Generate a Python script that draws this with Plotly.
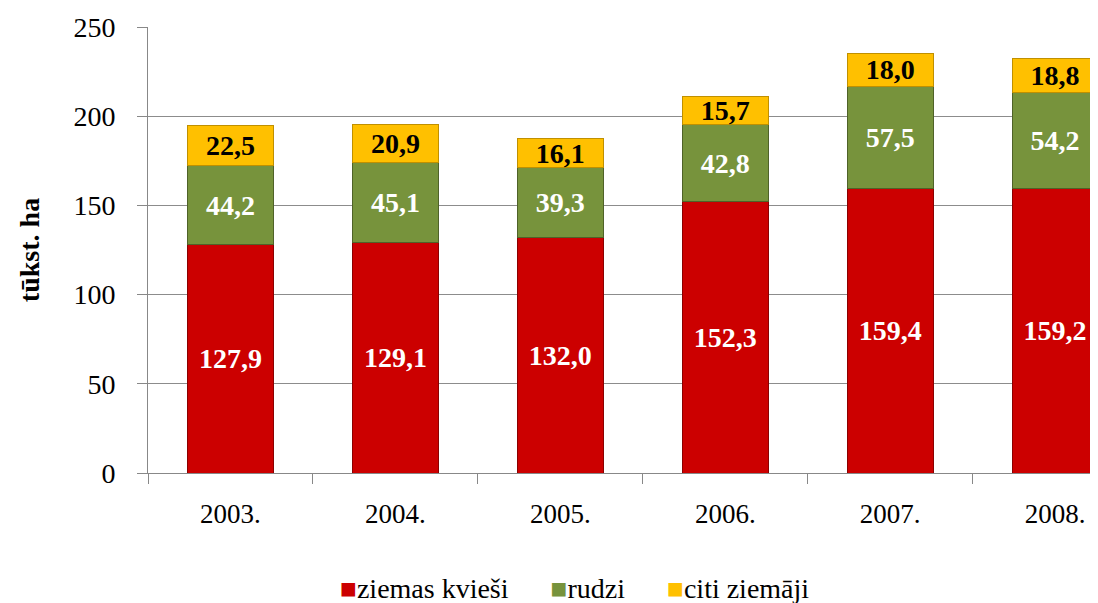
import plotly.graph_objects as go

years = ["2003.", "2004.", "2005.", "2006.", "2007.", "2008."]
ziemas_kviesi = [127.9, 129.1, 132.0, 152.3, 159.4, 159.2]
rudzi = [44.2, 45.1, 39.3, 42.8, 57.5, 54.2]
citi_ziemaji = [22.5, 20.9, 16.1, 15.7, 18.0, 18.8]
y_ticks = [0, 50, 100, 150, 200, 250]

def lab(vals):
    return [f"{v:.1f}".replace(".", ",") for v in vals]

serif = "Liberation Serif"
fig = go.Figure()
series = [
    ("ziemas kvieši", ziemas_kviesi, "#CC0000", "#8B0000", "white"),
    ("rudzi", rudzi, "#77933C", "#4F6228", "white"),
    ("citi ziemāji", citi_ziemaji, "#FFC000", "#C09000", "black"),
]
legend_parts = []
for name, vals, col, edge, tcol in series:
    fig.add_trace(go.Bar(
        name=name, x=years, y=vals, text=lab(vals),
        textposition="inside", insidetextanchor="middle",
        constraintext="none", showlegend=False,
        textfont=dict(family=serif, size=28, color=tcol, weight="bold"),
        marker=dict(color=col, line=dict(color=edge, width=1)),
    ))
    legend_parts.append(f"<span style='color:{col}'>■</span>{name}")

fig.add_annotation(
    text="      ".join(legend_parts), xref="paper", yref="paper",
    x=0.449, y=-0.258, xanchor="center", yanchor="middle", showarrow=False,
    font=dict(family=serif, size=28, color="black"),
)

fig.update_layout(
    barmode="stack", bargap=0.48,
    width=1090, height=595,
    margin=dict(l=140, r=0, t=19, b=130, autoexpand=False),
    plot_bgcolor="white", paper_bgcolor="white",
    font=dict(family=serif, size=26, color="black"),
    xaxis=dict(range=[-0.5, 5.26], ticks="outside", tickson="boundaries",
               ticklen=10, tickcolor="#888", showline=True, linecolor="#888",
               tickfont=dict(family=serif, size=27, color="black"), showgrid=False,
               ticklabelstandoff=17, automargin=False),
    yaxis=dict(range=[0, 250], tickvals=y_ticks, ticks="outside", ticklen=10,
               tickcolor="#888", showline=True, linecolor="#888",
               gridcolor="#8c8c8c", gridwidth=1, automargin=False,
               ticklabelstandoff=16,
               tickfont=dict(family=serif, size=28, color="black"),
               title=dict(text="<b>tūkst. ha</b>", font=dict(family=serif, size=28, color="black"),
                          standoff=25)),
)
fig.write_html("out.html")
